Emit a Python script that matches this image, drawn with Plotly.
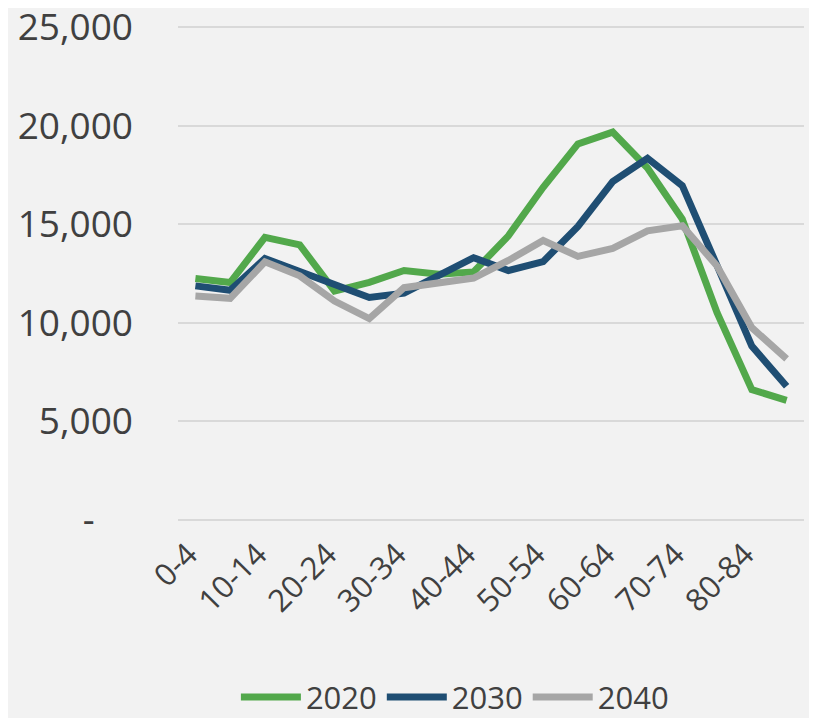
import plotly.graph_objects as go

age_groups = ["0-4", "5-9", "10-14", "15-19", "20-24", "25-29", "30-34", "35-39",
              "40-44", "45-49", "50-54", "55-59", "60-64", "65-69", "70-74",
              "75-79", "80-84", "85+"]
pop_2020 = [12250, 12040, 14330, 13950, 11610, 12050, 12650, 12460, 12580,
            14410, 16870, 19070, 19670, 17850, 15260, 10510, 6610, 6070]
pop_2030 = [11870, 11650, 13260, 12600, 11880, 11280, 11500, 12400, 13300,
            12650, 13100, 14890, 17160, 18340, 16950, 12900, 8820, 6780]
pop_2040 = [11360, 11240, 13090, 12380, 11100, 10210, 11780, 12000, 12270,
            13160, 14170, 13370, 13770, 14660, 14920, 12880, 9750, 8170]
series_names = ["2020", "2030", "2040"]
colors = ["#52a84b", "#1f4e73", "#a6a6a6"]

y_tickvals = [0, 5000, 10000, 15000, 20000, 25000]
y_ticktext = ["-\u00a0\u00a0\u00a0\u00a0", "5,000", "10,000", "15,000", "20,000", "25,000"]
x_tickvals = age_groups[::2]

fig = go.Figure()
for name, vals, col in zip(series_names, [pop_2020, pop_2030, pop_2040], colors):
    fig.add_trace(go.Scatter(x=age_groups, y=vals, name=name, mode="lines",
                             line=dict(color=col, width=7)))

font_family = "'Open Sans', sans-serif"
fig.update_layout(
    width=817, height=718,
    paper_bgcolor="#f2f2f2", plot_bgcolor="#f2f2f2",
    margin=dict(l=170, r=21, t=16, b=206, autoexpand=False),
    font=dict(family=font_family, color="#404040"),
    showlegend=True,
    legend=dict(orientation="h", xref="container", x=0.547, xanchor="center",
                yref="container", y=0.040, yanchor="middle",
                font=dict(size=31, color="#404040"),
                bgcolor="rgba(0,0,0,0)", itemwidth=60),
)
fig.update_xaxes(type="category", categoryorder="array", categoryarray=age_groups,
                 range=[-0.5, 17.5], tickmode="array", tickvals=x_tickvals,
                 tickangle=-45, tickfont=dict(size=31, color="#404040"),
                 showgrid=False, zeroline=False, showline=False,
                 ticks="", ticklabelstandoff=9, ticklabelshift=-7)
fig.update_yaxes(range=[0, 25150], tickmode="array", tickvals=y_tickvals,
                 ticktext=y_ticktext, tickfont=dict(size=37, color="#404040"),
                 showgrid=True, gridcolor="#d9d9d9", gridwidth=2,
                 zeroline=True, zerolinecolor="#d9d9d9", zerolinewidth=2,
                 showline=False, ticks="", ticklabelstandoff=44,
                 ticklabeloverflow="allow")

fig.write_html("out.html")
